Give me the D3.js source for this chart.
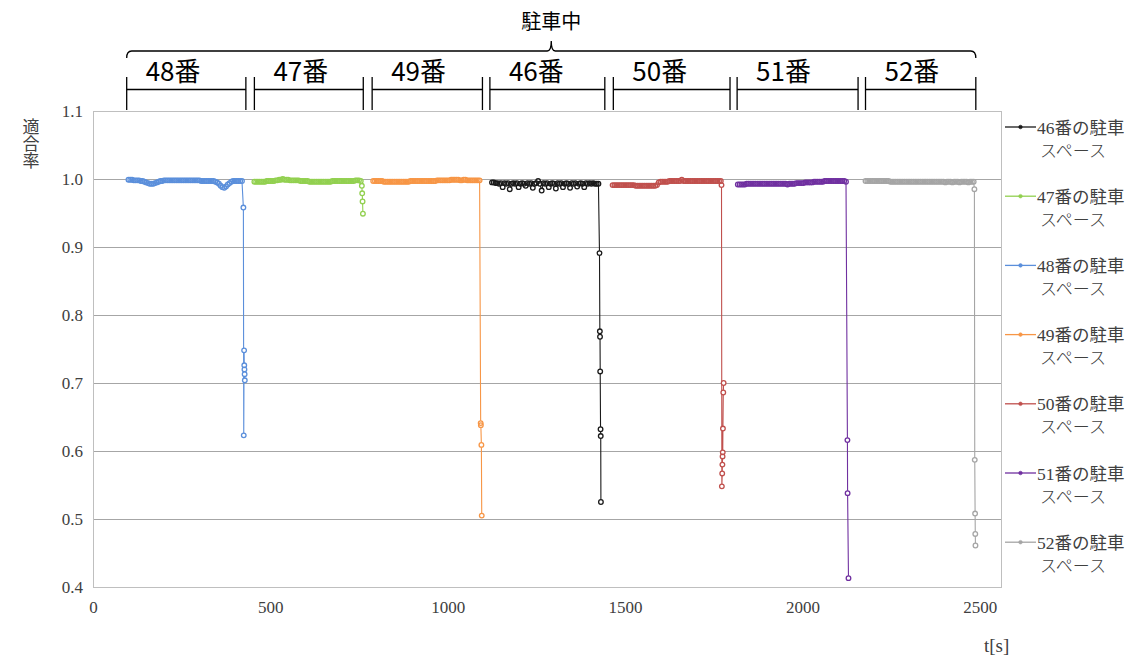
<!DOCTYPE html>
<html>
<head>
<meta charset="utf-8">
<script src="https://cdn.jsdelivr.net/npm/d3@7"></script>
<style>
  html, body { margin: 0; padding: 0; background: #fff; }
  svg { display: block; }
</style>
</head>
<body>
<svg id="chart" width="1143" height="662"></svg>
<script>
// ---- axis ticks ----
const xTicks = [0, 500, 1000, 1500, 2000, 2500];
const yTicks = [0.4, 0.5, 0.6, 0.7, 0.8, 0.9, 1.0, 1.1];

// ---- legend / series identity ----
const spaceIds = ["46", "47", "48", "49", "50", "51", "52"];
const spaceColors = ["#1a1a1a", "#92D050", "#5B8FDB", "#F79646", "#C0504D", "#7030A0", "#A5A5A5"];

// seconds between logged samples in the steady part of each record
const sampleStep = 5;

// ---- parking space 46 ----
const start46 = 1125;
const steady46 = [0.995,0.995,0.994,0.994,0.993,0.994,0.988,0.994,0.993,0.994,0.985,0.993,0.994,0.993,0.994,0.988,0.993,0.994,0.993,0.990,
  0.994,0.993,0.994,0.987,0.993,0.994,0.997,0.993,0.983,0.994,0.993,0.994,0.988,0.993,0.994,0.993,0.986,0.994,0.993,0.994,
  0.988,0.993,0.994,0.993,0.987,0.994,0.993,0.994,0.989,0.993,0.994,0.993,0.988,0.994,0.993,0.994,0.993,0.994,0.993,0.993,0.993];
const leave46 = [[1428,0.891],[1429,0.776],[1429.5,0.768],[1430,0.717],[1431,0.632],[1431.5,0.622],[1432,0.525]];

// ---- parking space 47 ----
const start47 = 455;
const steady47 = [0.996,0.996,0.996,0.996,0.996,0.996,0.996,0.997,0.997,0.997,0.997,0.997,0.998,0.998,0.999,0.999,1.000,0.999,0.999,0.999,
  0.998,0.998,0.998,0.998,0.998,0.998,0.997,0.997,0.997,0.997,0.997,0.996,0.996,0.996,0.996,0.996,0.996,0.996,0.996,0.996,
  0.996,0.996,0.996,0.996,0.997,0.997,0.997,0.997,0.997,0.997,0.997,0.997,0.997,0.997,0.997,0.997,0.997,0.998,0.998,0.998,0.997];
const leave47 = [[758,0.990],[759,0.979],[760,0.967],[761,0.949]];

// ---- parking space 48 ----
const start48 = 100;
const steady48 = [0.999,0.999,0.999,0.998,0.998,0.998,0.998,0.997,0.997,0.996,0.995,0.994,0.993,0.993,0.993,0.994,0.995,0.996,0.997,0.997,
  0.998,0.998,0.998,0.998,0.998,0.998,0.998,0.998,0.998,0.998,0.998,0.998,0.998,0.998,0.998,0.998,0.998,0.998,0.998,0.998,
  0.998,0.997,0.997,0.997,0.997,0.997,0.997,0.997,0.997,0.996,0.995,0.993,0.990,0.988,0.987,0.989,0.992,0.994,0.996,0.997,
  0.997,0.997,0.997,0.997,0.997];
const leave48 = [[424,0.958],[425,0.623],[426,0.748],[426.5,0.726],[427,0.720],[427.5,0.713],[428,0.704]];

// ---- parking space 49 ----
const start49 = 790;
const steady49 = [0.997,0.997,0.997,0.997,0.997,0.997,0.996,0.996,0.996,0.996,0.996,0.996,0.996,0.996,0.996,0.996,0.996,0.996,0.996,0.996,
  0.996,0.997,0.997,0.997,0.997,0.997,0.997,0.997,0.997,0.997,0.997,0.997,0.997,0.997,0.997,0.997,0.998,0.998,0.998,0.998,
  0.998,0.998,0.998,0.998,0.999,0.999,0.999,0.999,0.999,0.998,0.998,0.999,0.999,0.998,0.998,0.998,0.998,0.998,0.998,0.998,0.998];
const leave49 = [[1093,0.641],[1093.5,0.638],[1095,0.609],[1096,0.505]];

// ---- parking space 50 ----
const start50 = 1465;
const steady50 = [0.991,0.991,0.991,0.991,0.991,0.991,0.991,0.991,0.991,0.991,0.991,0.991,0.991,0.990,0.990,0.990,0.990,0.990,0.990,0.990,
  0.990,0.990,0.990,0.990,0.990,0.991,0.995,0.996,0.996,0.996,0.996,0.996,0.997,0.997,0.997,0.997,0.997,0.997,0.997,0.999,
  0.997,0.997,0.997,0.997,0.997,0.997,0.997,0.997,0.997,0.997,0.997,0.997,0.997,0.997,0.997,0.997,0.997,0.997,0.997,0.997,
  0.997,0.997];
const leave50 = [[1772,0.991],[1773,0.548],[1774,0.567],[1774.5,0.580],[1775,0.592],[1775.5,0.598],[1776,0.633],[1777,0.686],[1778,0.700]];

// ---- parking space 51 ----
const start51 = 1818;
const steady51 = [0.992,0.992,0.992,0.992,0.992,0.993,0.993,0.993,0.993,0.993,0.993,0.993,0.993,0.993,0.993,0.993,0.993,0.993,0.993,0.993,
  0.993,0.993,0.993,0.993,0.993,0.993,0.993,0.993,0.992,0.993,0.993,0.993,0.993,0.994,0.994,0.994,0.994,0.994,0.995,0.995,
  0.995,0.995,0.995,0.996,0.996,0.996,0.996,0.996,0.996,0.997,0.997,0.997,0.997,0.997,0.997,0.997,0.997,0.997,0.997,0.997,
  0.997,0.996];
const leave51 = [[2127,0.616],[2127.5,0.538],[2130,0.413]];

// ---- parking space 52 ----
const start52 = 2178;
const steady52 = [0.997,0.997,0.997,0.997,0.997,0.997,0.997,0.997,0.997,0.997,0.997,0.997,0.997,0.997,0.996,0.996,0.996,0.996,0.996,0.996,
  0.996,0.996,0.996,0.996,0.996,0.996,0.996,0.996,0.996,0.996,0.996,0.996,0.996,0.996,0.996,0.996,0.996,0.996,0.996,0.996,
  0.996,0.996,0.996,0.996,0.996,0.995,0.996,0.996,0.996,0.995,0.996,0.996,0.996,0.995,0.996,0.996,0.996,0.996,0.995,0.996,
  0.996,0.996];
const leave52 = [[2485,0.985],[2486,0.587],[2487,0.508],[2487.5,0.478],[2488,0.461]];

// ---- occupancy annotation (seconds) ----
const slotLabels = ["48番", "47番", "49番", "46番", "50番", "51番", "52番"];
const slotFrom = [95, 455, 787, 1119, 1467, 1816, 2178];
const slotTo   = [431, 762, 1098, 1443, 1796, 2157, 2489];
const braceLabel = "駐車中";
const yTitle = "適合率";

// ---- build point lists ----
const records = [
  [start46, steady46, leave46],
  [start47, steady47, leave47],
  [start48, steady48, leave48],
  [start49, steady49, leave49],
  [start50, steady50, leave50],
  [start51, steady51, leave51],
  [start52, steady52, leave52]
];
const series = records.map(([t0, vals, tail], i) => ({
  id: spaceIds[i],
  color: spaceColors[i],
  points: vals.map((v, k) => [t0 + k * sampleStep, v]).concat(tail)
}));

// ---- layout ----
const svg = d3.select("#chart");
const plot = { left: 93, right: 1001, top: 111, bottom: 587 };

const x = d3.scaleLinear().domain([0, 2560]).range([plot.left, plot.right]);
const y = d3.scaleLinear().domain([0.4, 1.1]).range([plot.bottom, plot.top]);

const serif = "'Liberation Serif', 'Times New Roman', 'Noto Sans CJK JP', serif";
const sansJP = "'Noto Sans CJK JP', 'Noto Sans', sans-serif";

// gridlines
svg.append("g")
  .selectAll("line")
  .data(yTicks.filter(t => t > 0.45 && t < 1.05))
  .join("line")
  .attr("x1", plot.left).attr("x2", plot.right)
  .attr("y1", d => y(d)).attr("y2", d => y(d))
  .attr("stroke", "#a6a6a6").attr("stroke-width", 1)
  .attr("shape-rendering", "crispEdges");

// plot frame
svg.append("rect")
  .attr("x", plot.left).attr("y", plot.top)
  .attr("width", plot.right - plot.left).attr("height", plot.bottom - plot.top)
  .attr("fill", "none").attr("stroke", "#bfbfbf").attr("stroke-width", 1)
  .attr("shape-rendering", "crispEdges");

// y axis labels
const yAxis = d3.axisLeft(y).tickValues(yTicks).tickFormat(d3.format(".1f")).tickSize(0).tickPadding(10);
const gy = svg.append("g").attr("transform", `translate(${plot.left},0)`).call(yAxis);
gy.select(".domain").remove();
gy.selectAll("text").attr("font-family", serif).attr("font-size", 17).attr("fill", "#404040");

// x axis labels
const xAxis = d3.axisBottom(x).tickValues(xTicks).tickFormat(d3.format("d")).tickSize(0).tickPadding(14);
const gx = svg.append("g").attr("transform", `translate(0,${plot.bottom})`).call(xAxis);
gx.select(".domain").remove();
gx.selectAll("text").attr("font-family", serif).attr("font-size", 17).attr("fill", "#404040");

// axis titles
svg.append("text")
  .attr("x", 984).attr("y", 652)
  .attr("font-family", serif).attr("font-size", 19).attr("fill", "#404040")
  .text("t[s]");

// vertical y title (top-to-bottom, upright characters)
svg.append("text")
  .attr("x", 31).attr("y", 118)
  .attr("writing-mode", "tb")
  .attr("font-family", sansJP).attr("font-size", 17)
  .attr("fill", "#404040")
  .text(yTitle);

// series: line, then marker fills, then marker outlines
const line = d3.line().x(d => x(d[0])).y(d => y(d[1]));
const gSeries = svg.append("g");
series.forEach(s => {
  const g = gSeries.append("g");
  g.append("path")
    .datum(s.points)
    .attr("d", line)
    .attr("fill", "none")
    .attr("stroke", s.color)
    .attr("stroke-width", 1.1);
  g.append("g").selectAll("circle")
    .data(s.points)
    .join("circle")
    .attr("cx", d => x(d[0]))
    .attr("cy", d => y(d[1]))
    .attr("r", 2.3)
    .attr("fill", "#fff");
  g.append("g").selectAll("circle")
    .data(s.points)
    .join("circle")
    .attr("cx", d => x(d[0]))
    .attr("cy", d => y(d[1]))
    .attr("r", 2.3)
    .attr("fill", "none")
    .attr("stroke", s.color)
    .attr("stroke-width", 1.3);
});

// legend
const legend = svg.append("g").attr("transform", "translate(1005,127)");
series.forEach((s, i) => {
  const g = legend.append("g").attr("transform", `translate(0,${i * 69.2})`);
  g.append("line").attr("x1", 0).attr("x2", 31).attr("y1", 0).attr("y2", 0)
    .attr("stroke", s.color).attr("stroke-width", 1.3);
  g.append("circle").attr("cx", 15.5).attr("cy", 0).attr("r", 1.8)
    .attr("fill", s.color).attr("stroke", s.color).attr("stroke-width", 0.6);
  g.append("text").attr("x", 32).attr("y", 6.5)
    .attr("font-family", serif).attr("font-size", 17.5).attr("fill", "#404040")
    .text(`${s.id}番の駐車`);
  g.append("text").attr("x", 35).attr("y", 29.5)
    .attr("font-family", sansJP).attr("font-size", 17).attr("font-weight", 300).attr("fill", "#404040")
    .text("スペース");
});

// occupancy brackets above the plot
const ann = svg.append("g").attr("stroke", "#000").attr("stroke-width", 1.3).attr("fill", "none");
const tickTop = 77, tickBottom = plot.top - 1, barY = 89.5;
slotLabels.forEach((lab, i) => {
  const x0 = x(slotFrom[i]), x1 = x(slotTo[i]);
  ann.append("line").attr("x1", x0).attr("x2", x0).attr("y1", tickTop).attr("y2", tickBottom);
  ann.append("line").attr("x1", x1).attr("x2", x1).attr("y1", tickTop).attr("y2", tickBottom);
  ann.append("line").attr("x1", x0).attr("x2", x1).attr("y1", barY).attr("y2", barY);
  svg.append("text")
    .attr("x", x0 + 19).attr("y", 81)
    .attr("font-family", sansJP).attr("font-size", 26).attr("fill", "#000")
    .text(lab);
});

// brace over the whole parked period
const bx0 = x(slotFrom[0]), bx1 = x(slotTo[slotTo.length - 1]);
const bc = (bx0 + bx1) / 2, by = 51;
ann.append("path")
  .attr("d", `M${bx0},${by + 7} Q${bx0},${by} ${bx0 + 5},${by} H${bc - 4} Q${bc},${by} ${bc},${by - 10} Q${bc},${by} ${bc + 4},${by} H${bx1 - 5} Q${bx1},${by} ${bx1},${by + 7}`);
svg.append("text")
  .attr("x", bc).attr("y", 29).attr("text-anchor", "middle")
  .attr("font-family", sansJP).attr("font-size", 20).attr("fill", "#000")
  .text(braceLabel);
</script>
</body>
</html>
